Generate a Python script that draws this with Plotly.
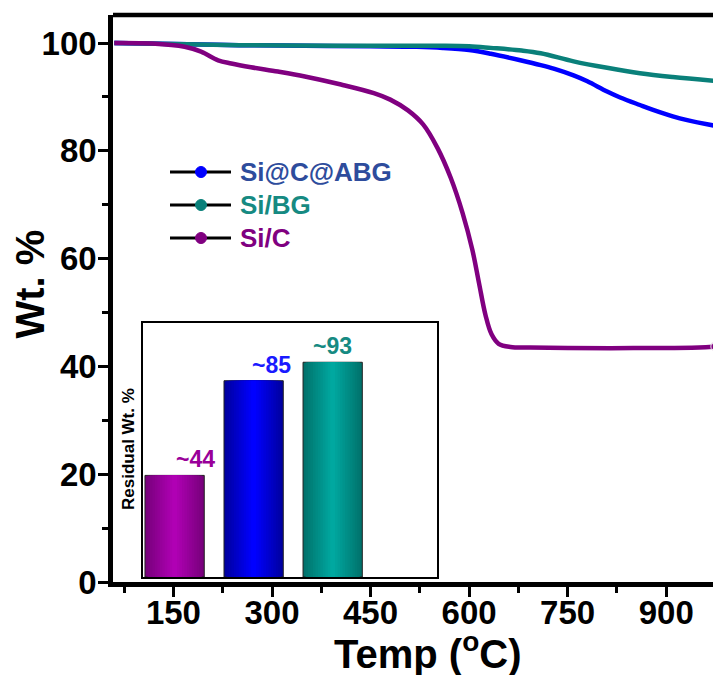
import plotly.graph_objects as go

# ---------------- data ----------------
t_sicabg = [60, 150, 250, 350, 450, 520, 560, 600, 633, 678, 709, 730, 759, 780, 810, 830, 860, 880, 910, 932, 985]
w_sicabg = [100, 99.8, 99.6, 99.5, 99.4, 99.3, 99.1, 98.7, 98.0, 96.8, 95.9, 95.2, 94.0, 92.9, 91.0, 89.9, 88.5, 87.6, 86.4, 85.7, 84.4]

t_sibg = [60, 150, 250, 400, 500, 557, 600, 633, 680, 709, 759, 810, 860, 910, 982]
w_sibg = [100, 99.8, 99.6, 99.5, 99.5, 99.5, 99.4, 99.1, 98.6, 98.1, 96.6, 95.4, 94.4, 93.7, 92.9]

t_sic = [60, 117, 167, 192, 218, 238, 268, 309, 350, 405, 455, 480, 507, 530, 552, 572, 590, 605, 615, 625, 634, 645, 663, 693, 750, 850, 950, 974]
w_sic = [100, 99.9, 99.3, 98.4, 96.8, 96.2, 95.5, 94.7, 93.8, 92.3, 90.7, 89.5, 87.5, 84.9, 80.5, 75.0, 68.5, 61.6, 55.5, 49.5, 46.0, 44.2, 43.6, 43.5, 43.4, 43.4, 43.5, 43.7]

inset_pos = [1, 2, 3]
inset_vals = [44, 85, 93]
inset_labels = ["~44", "~85", "~93"]

legend_names = ["Si@C@ABG", "Si/BG", "Si/C"]

# ---------------- styling ----------------
FONT = "Arial, Liberation Sans, sans-serif"
c_blue, c_teal, c_purple = "#0000FF", "#0A807A", "#800080"
bar_edge = [(0x78, 0x00, 0x7C), (0x00, 0x00, 0xA0), (0x00, 0x72, 0x6C)]
bar_mid = [(0xB0, 0x00, 0xB4), (0x00, 0x00, 0xFF), (0x00, 0xA8, 0xA0)]
label_colors = ["#990099", "#1A1AFF", "#168A82"]
legend_text_colors = ["#2E4C9C", "#168A82", "#800080"]

OFF = 8  # page body margin
W, H = 721 - OFF, 675 - OFF
L, R, T, B = 113 - OFF, 0, 15 - OFF, 675 - 582
PW, PH = W - L - R, H - T - B


def px(x):
    return (x - OFF - L) / PW


def py(y):
    return (H - B - (y - OFF)) / PH


def end_sizes(n, s):
    return [0] * (n - 1) + [s]


def mix(a, b, f):
    return "rgb(%d,%d,%d)" % tuple(round(a[i] + (b[i] - a[i]) * f) for i in range(3))


fig = go.Figure()

for t, w, c in [(t_sicabg, w_sicabg, c_blue), (t_sibg, w_sibg, c_teal), (t_sic, w_sic, c_purple)]:
    fig.add_trace(go.Scatter(
        x=t, y=w, mode="lines+markers",
        line=dict(color=c, width=4.5, shape="spline", smoothing=1.0),
        marker=dict(size=end_sizes(len(t), 8), color=c, line=dict(color="#E8D8E8", width=1.5)),
        showlegend=False, hoverinfo="x+y",
    ))

# inset bars (layered to imitate the horizontal gradient fill)
NL = 12
BW = 0.75
for k in range(NL):
    f = k / (NL - 1)
    fig.add_trace(go.Bar(
        x=inset_pos, y=inset_vals, width=BW * (1 - k / NL),
        marker=dict(color=[mix(e, m, f) for e, m in zip(bar_edge, bar_mid)],
                    line=dict(color="#202020", width=1 if k == 0 else 0)),
        xaxis="x2", yaxis="y2", showlegend=False, hoverinfo="skip" if k else "x+y",
    ))

shifts = [21, 18, 0]
for xp, v, lab, col, s in zip(inset_pos, inset_vals, inset_labels, label_colors, shifts):
    fig.add_annotation(x=xp, y=v, xref="x2", yref="y2", text=f"<b>{lab}</b>",
                       showarrow=False, xanchor="center", yanchor="bottom", xshift=s, yshift=1,
                       font=dict(family=FONT, size=23, color=col))

# manual legend
legend_rows = [172, 205, 238]
legend_marker_colors = [c_blue, c_teal, c_purple]
shapes = []
for yr, mc in zip(legend_rows, legend_marker_colors):
    shapes.append(dict(type="line", xref="paper", yref="paper",
                       x0=px(170), x1=px(231), y0=py(yr), y1=py(yr),
                       line=dict(color="black", width=3)))
    shapes.append(dict(type="circle", xref="paper", yref="paper",
                       x0=px(195.5), x1=px(206.5), y0=py(yr + 5.5), y1=py(yr - 5.5),
                       fillcolor=mc, line=dict(color=mc, width=1)))
for yr, name, col in zip(legend_rows, legend_names, legend_text_colors):
    fig.add_annotation(x=px(238), y=py(yr), xref="paper", yref="paper",
                       text=f"<b>{name}</b>", showarrow=False,
                       xanchor="left", yanchor="middle",
                       font=dict(family=FONT, size=26, color=col))

# top border
shapes.append(dict(type="line", xref="paper", yref="paper", x0=0, x1=1.0, y0=1, y1=1,
                   line=dict(color="black", width=4.5)))

# inset y label
fig.add_annotation(x=px(128), y=py(449), xref="paper", yref="paper",
                   text="<b>Residual Wt. %</b>", textangle=-90, showarrow=False,
                   xanchor="center", yanchor="middle",
                   font=dict(family=FONT, size=17, color="black"))

# axis titles
fig.add_annotation(x=px(29.5), y=py(284), xref="paper", yref="paper",
                   text="<b>Wt. %</b>", textangle=-90, showarrow=False,
                   xanchor="center", yanchor="middle",
                   font=dict(family=FONT, size=40, color="black"))
fig.add_annotation(x=px(427), y=py(651), xref="paper", yref="paper",
                   text="<b>Temp (<sup>o</sup>C)</b>", showarrow=False,
                   xanchor="center", yanchor="middle",
                   font=dict(family=FONT, size=40, color="black"))

fig.update_layout(
    width=W, height=H,
    margin=dict(l=L, r=R, t=T, b=B, autoexpand=False),
    paper_bgcolor="white", plot_bgcolor="white",
    font=dict(family=FONT, color="black"),
    shapes=shapes,
    barmode="overlay",
    xaxis=dict(
        range=[58, 983.4], showline=True, linewidth=4.5, linecolor="black",
        showgrid=False, zeroline=False,
        ticks="outside", ticklen=10, tickwidth=3, tickcolor="black",
        tick0=0, dtick=150, ticklabelstandoff=-12,
        minor=dict(ticks="outside", ticklen=6, tickwidth=3, tickcolor="black", dtick=75, tick0=0),
        tickfont=dict(family=FONT, size=33, color="black"),
        tickprefix="<b>", ticksuffix="</b>",
        automargin=False,
    ),
    yaxis=dict(
        range=[0, 105.2], showline=True, linewidth=4.5, linecolor="black",
        showgrid=False, zeroline=False,
        ticks="outside", ticklen=10, tickwidth=3, tickcolor="black",
        tick0=0, dtick=20, ticklabelstandoff=-5,
        minor=dict(ticks="outside", ticklen=6, tickwidth=3, tickcolor="black", dtick=10, tick0=0),
        tickfont=dict(family=FONT, size=33, color="black"),
        tickprefix="<b>", ticksuffix="</b>",
        automargin=False,
    ),
    xaxis2=dict(
        domain=[px(143), px(437)], anchor="y2", range=[0.6, 4.32],
        showline=True, mirror=True, linewidth=1.5, linecolor="black",
        showgrid=False, zeroline=False, showticklabels=False, ticks="",
    ),
    yaxis2=dict(
        domain=[py(577), py(323)], anchor="x2", range=[0, 110],
        showline=True, mirror=True, linewidth=1.5, linecolor="black",
        showgrid=False, zeroline=False, showticklabels=False, ticks="",
    ),
)

fig.write_html("out.html")
